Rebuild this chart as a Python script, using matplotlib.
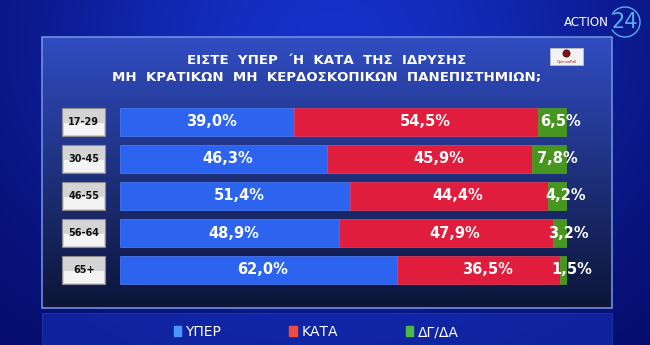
import numpy as np
import matplotlib
matplotlib.use("Agg")
import matplotlib.pyplot as plt
from matplotlib.patches import Rectangle, Arc, Circle, Patch

# poll data (percent)
groups = ["17-29", "30-45", "46-55", "56-64", "65+"]
yper = [39.0, 46.3, 51.4, 48.9, 62.0]
kata = [54.5, 45.9, 44.4, 47.9, 36.5]
dgda = [6.5, 7.8, 4.2, 3.2, 1.5]
series_names = ["ΥΠΕΡ", "ΚΑΤΑ", "ΔΓ/ΔΑ"]
title_lines = ["ΕΙΣΤΕ  ΥΠΕΡ  ΄Η  ΚΑΤΑ  ΤΗΣ  ΙΔΡΥΣΗΣ",
               "ΜΗ  ΚΡΑΤΙΚΩΝ  ΜΗ  ΚΕΡΔΟΣΚΟΠΙΚΩΝ  ΠΑΝΕΠΙΣΤΗΜΙΩΝ;"]

c_blue, c_red, c_green = "#2d64ef", "#e01d3d", "#47961f"
W, H = 650, 345

fig = plt.figure(figsize=(6.5, 3.45), dpi=100)

# background + decoration axes in pixel coords
deco = fig.add_axes([0, 0, 1, 1])
deco.set_xlim(0, W)
deco.set_ylim(H, 0)
deco.axis("off")

yy, xx = np.mgrid[0:H, 0:W]
glow = np.exp(-(((xx - 330) / 320.0) ** 2 + ((yy - 40) / 260.0) ** 2))
bg = np.zeros((H, W, 3))
bg[..., 0] = 0.02 + 0.06 * glow
bg[..., 1] = 0.04 + 0.15 * glow
bg[..., 2] = 0.40 + 0.38 * glow
deco.imshow(np.clip(bg, 0, 1), extent=(0, W, H, 0), aspect="auto", zorder=0)

# main panel with vertical gradient
py0, py1, px0, px1 = 37, 308, 42, 612
t = np.linspace(0, 1, py1 - py0)[:, None]
top = np.array([0.19, 0.30, 0.76])
bot = np.array([0.05, 0.08, 0.22])
panel = top * (1 - t[..., None]) + bot * t[..., None]
panel = np.repeat(panel, 2, axis=1)
deco.imshow(panel, extent=(px0, px1, py1, py0), aspect="auto", zorder=2)
deco.add_patch(Rectangle((px0, py0), px1 - px0, py1 - py0, fill=False,
                         ec="#6f8fe0", lw=1.2, zorder=3))

# legend strip
deco.add_patch(Rectangle((px0, 313), px1 - px0, 40, fc="#1a3ad0",
                         ec="#3a5ad0", lw=0.6, alpha=0.45, zorder=2))

# title
for i, line in enumerate(title_lines):
    deco.text(327, 60 + 18 * i, line, color="white", fontsize=9.6,
              fontweight="bold", ha="center", va="center", zorder=5)

# opinion poll logo
deco.add_patch(Rectangle((550, 48), 33, 17, fc="#f2f2f2", ec="#c8c8c8",
                         lw=0.5, zorder=5))
deco.add_patch(Circle((566.5, 53.5), 3.6, fc="#8a0f14", ec="#2a0506",
                      lw=0.5, zorder=6))
deco.text(566.5, 61.5, "OpinionPoll", fontsize=2.6, color="#8a1a1a",
          ha="center", va="center", zorder=6)

# channel logo
deco.text(586, 22, "ACTION", color="white", fontsize=8.6, ha="center",
          va="center", zorder=5)
deco.text(625, 22, "24", color="#5aaef0", fontsize=15, ha="center",
          va="center", zorder=5)
deco.add_patch(Arc((625, 22), 30, 30, theta1=-150, theta2=150,
                   color="#5aaef0", lw=1.0, zorder=5))

# bars
ax = fig.add_axes([120 / W, 1 - 288.5 / H, 447 / W, 185 / H])
ax.patch.set_alpha(0)
ax.set_xlim(0, 100)
ax.set_ylim(len(groups) - 0.5, -0.5)
ax.axis("off")

y = np.arange(len(groups))
yper_a = np.array(yper)
kata_a = np.array(kata)
dgda_a = np.array(dgda)
bh = 0.78
ax.barh(y, yper_a, height=bh, color=c_blue, edgecolor="#4a80fa", lw=0.5)
ax.barh(y, kata_a, left=yper_a, height=bh, color=c_red, edgecolor="#ea4060", lw=0.5)
ax.barh(y, dgda_a, left=yper_a + kata_a, height=bh, color=c_green,
        edgecolor="#52a02a", lw=0.5)

fmt = lambda v: f"{v:.1f}%".replace(".", ",")
for i in range(len(groups)):
    ax.text(yper_a[i] / 2 + 1, y[i], fmt(yper_a[i]), color="white",
            fontsize=10.5, fontweight="bold", ha="center", va="center")
    ax.text(yper_a[i] + kata_a[i] / 2 + 2, y[i], fmt(kata_a[i]), color="white",
            fontsize=10.5, fontweight="bold", ha="center", va="center")
    ax.text(yper_a[i] + kata_a[i] + dgda_a[i] / 2 + 1.8, y[i], fmt(dgda_a[i]),
            color="white", fontsize=10.5, fontweight="bold", ha="center",
            va="center")
    # age group box
    ax.add_patch(Rectangle((-12.9, y[i] - bh / 2), 9.6, bh, fc="#d4d4d4",
                           ec="#8c8c8c", lw=0.8, clip_on=False))
    ax.add_patch(Rectangle((-12.6, y[i] + 0.02), 9.0, bh / 2 - 0.06,
                           fc="#f4f4f4", ec="none", clip_on=False))
    ax.text(-8.1, y[i], groups[i], color="#111111", fontsize=7,
            fontweight="bold", ha="center", va="center", clip_on=False)

# legend
handles = [Patch(color=c, label=n) for c, n in
           zip(["#4a96ff", "#f04b3c", "#4cb84a"], series_names)]
leg = fig.legend(handles=handles, loc="center", bbox_to_anchor=(316 / W, 1 - 332 / H),
                 ncol=3, frameon=False, fontsize=10, handlelength=0.55,
                 handleheight=0.75, handletextpad=0.3, columnspacing=4.9,
                 labelcolor="white")

fig.savefig("out.png", dpi=100)
